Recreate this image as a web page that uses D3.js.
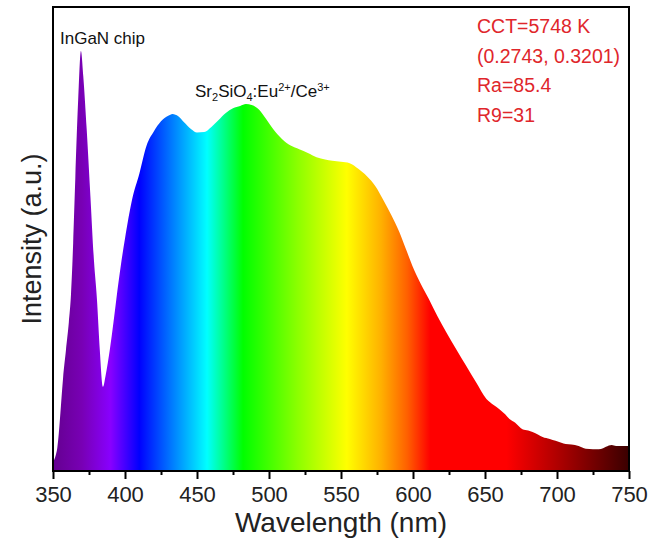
<!DOCTYPE html>
<html>
<head>
<meta charset="utf-8">
<script src="https://cdn.jsdelivr.net/npm/d3@7"></script>
<style>
  body { margin: 0; background: #fff; }
  text { font-family: Arial, "Liberation Sans", sans-serif; }
</style>
</head>
<body>
<svg id="chart" width="654" height="547"></svg>
<script>
// spectrum (wavelength in nm, intensity in a.u.)
var wavelengths = [350, 352, 353, 354, 355.5, 357, 359, 361, 362.5, 364, 365.5, 367.5, 369.4, 371, 373.4, 376, 378.5,
    380.5, 382.5, 384.7, 386.5, 389.5, 392, 394, 397, 400, 405, 410, 415, 420, 425, 430, 433, 437, 441, 446, 450,
    455, 460, 465, 470, 475, 480, 484, 488, 492, 495, 498, 503, 509, 515, 521, 527, 533, 539, 544, 550, 556, 562,
    568, 574, 579, 585, 590.5, 595, 599.6, 605, 611, 617, 623, 630, 637, 644, 651, 656, 660, 664, 667, 671, 676,
    680, 683, 687, 690, 695, 699, 703, 706, 710, 715, 720, 725, 729, 732, 734, 738, 741, 745, 750];
var intensity = [0.019, 0.035, 0.05, 0.08, 0.14, 0.2, 0.26, 0.32, 0.38, 0.49, 0.63, 0.80, 0.903, 0.85, 0.735, 0.59, 0.45,
    0.37, 0.26, 0.181, 0.205, 0.262, 0.32, 0.37, 0.44, 0.50, 0.585, 0.64, 0.70, 0.73, 0.752, 0.764, 0.768, 0.763, 0.75, 0.735, 0.728,
    0.729, 0.74, 0.755, 0.77, 0.78, 0.785, 0.789, 0.787, 0.78, 0.77, 0.757, 0.735, 0.714, 0.70, 0.692, 0.684, 0.675, 0.670, 0.667, 0.665, 0.662, 0.650,
    0.634, 0.612, 0.585, 0.55, 0.514, 0.478, 0.441, 0.405, 0.37, 0.333, 0.299, 0.262, 0.226, 0.19, 0.155, 0.142, 0.133, 0.122, 0.112, 0.104, 0.09,
    0.087, 0.084, 0.078, 0.073, 0.069, 0.065, 0.061, 0.058, 0.057, 0.054, 0.048, 0.047, 0.047, 0.049, 0.052, 0.056, 0.054, 0.054, 0.054];

// colour of the fill along the wavelength axis
var stopNm = [350, 370, 390, 410, 435, 457, 482, 520, 554, 578, 596, 612, 665, 700, 750];
var stopColors = ['#640090', '#7800b4', '#8800ff', '#0000ff', '#0088ff', '#00ffff', '#00ff00', '#8cff00', '#ffff00',
    '#ffb000', '#ff6000', '#ff0000', '#ff0000', '#b00000', '#3a0000'];

var xTicks = [350, 400, 450, 500, 550, 600, 650, 700, 750];

var infoLines = ['CCT=5748 K', '(0.2743, 0.3201)', 'Ra=85.4', 'R9=31'];

var svg = d3.select('#chart');
let plotLeft = 53, plotRight = 629, plotTop = 7, plotBottom = 471;

var x = d3.scaleLinear().domain([350, 750]).range([plotLeft, plotRight]);
var y = d3.scaleLinear().domain([0, 1]).range([plotBottom, plotTop - 1]);

var data = wavelengths.map(function (w, i) { return { w: w, v: intensity[i] }; });

// gradient in user space so each stop sits on its wavelength
var grad = svg.append('defs').append('linearGradient')
    .attr('id', 'rainbow')
    .attr('gradientUnits', 'userSpaceOnUse')
    .attr('x1', x(350)).attr('x2', x(750))
    .attr('y1', 0).attr('y2', 0);
grad.selectAll('stop')
    .data(stopNm)
    .enter().append('stop')
    .attr('offset', d => (d - 350) / 400)
    .attr('stop-color', (d, i) => stopColors[i]);

var area = d3.area()
    .x(d => x(d.w))
    .y0(plotBottom)
    .y1(d => y(d.v))
    .curve(d3.curveMonotoneX);

svg.append('path')
    .datum(data)
    .attr('d', area)
    .attr('fill', 'url(#rainbow)');

// frame
svg.append('rect')
    .attr('x', plotLeft).attr('y', plotTop)
    .attr('width', plotRight - plotLeft).attr('height', plotBottom - plotTop)
    .attr('fill', 'none')
    .attr('stroke', '#000')
    .attr('stroke-width', 2);

// x axis with minor ticks
var minor = d3.range(375, 750, 50);
svg.append('g')
    .attr('transform', 'translate(0,' + plotBottom + ')')
    .call(d3.axisBottom(x).tickValues(minor).tickSize(4).tickFormat(''))
    .call(g => g.select('.domain').remove())
    .selectAll('line').attr('stroke-width', 2);

var xAxis = svg.append('g')
    .attr('transform', 'translate(0,' + plotBottom + ')')
    .call(d3.axisBottom(x).tickValues(xTicks).tickSize(8).tickPadding(7));
xAxis.select('.domain').remove();
xAxis.selectAll('line').attr('stroke-width', 2);
xAxis.selectAll('text')
    .style('font-size', '22px')
    .style('fill', '#222')
    .style('font-family', 'Arial, "Liberation Sans", sans-serif');

svg.append('text')
    .attr('x', (plotLeft + plotRight) / 2)
    .attr('y', 532)
    .attr('text-anchor', 'middle')
    .style('font-size', '28px')
    .style('fill', '#222')
    .text('Wavelength (nm)');

svg.append('text')
    .attr('transform', 'translate(41,' + (plotTop + plotBottom) / 2 + ') rotate(-90)')
    .attr('text-anchor', 'middle')
    .style('font-size', '27px')
    .style('fill', '#222')
    .text('Intensity (a.u.)');

// annotations
svg.append('text')
    .attr('x', 60).attr('y', 44)
    .style('font-size', '17px')
    .style('fill', '#111')
    .text('InGaN chip');

var phos = svg.append('text')
    .attr('x', 195).attr('y', 97)
    .style('font-size', '17px')
    .style('fill', '#111');
phos.append('tspan').text('Sr');
phos.append('tspan').attr('dy', 4).style('font-size', '11px').text('2');
phos.append('tspan').attr('dy', -4).text('SiO');
phos.append('tspan').attr('dy', 4).style('font-size', '11px').text('4');
phos.append('tspan').attr('dy', -4).text(':Eu');
phos.append('tspan').attr('dy', -6).style('font-size', '11px').text('2+');
phos.append('tspan').attr('dy', 6).text('/Ce');
phos.append('tspan').attr('dy', -6).style('font-size', '11px').text('3+');

svg.selectAll('.info')
    .data(infoLines)
    .enter().append('text')
    .attr('class', 'info')
    .attr('x', 477)
    .attr('y', (d, i) => 33 + i * 29.6)
    .style('font-size', '19.5px')
    .style('fill', '#e0262b')
    .text(d => d);
</script>
</body>
</html>
